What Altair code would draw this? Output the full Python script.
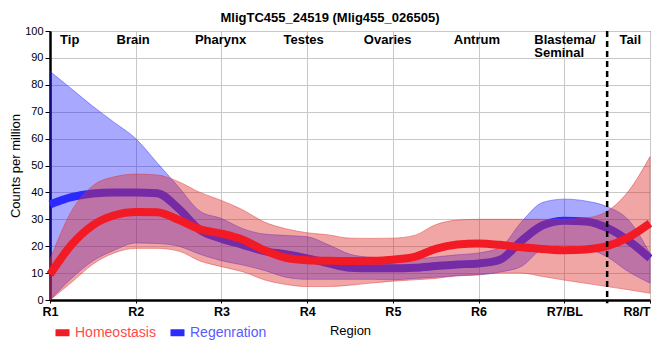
import json
import altair as alt
import pandas as pd

# ---- data ----
regions = ["R1", "R2", "R3", "R4", "R5", "R6", "R7/BL", "R8/T"]
series_names = ["Homeostasis", "Regenration"]

x_pos = [0, 0.25, 0.5, 0.75, 1, 1.25, 1.5, 1.75, 2, 2.25, 2.5, 2.75, 3, 3.25, 3.5,
         3.75, 4, 4.25, 4.5, 4.75, 5, 5.25, 5.5, 5.75, 6, 6.25, 6.5, 6.75, 7]

homeo_mean = [9.5, 20.5, 27.8, 31.5, 32.7, 32.6, 29.8, 26.3, 24.7, 22.4, 18.5, 15.7, 14.8, 14.6, 14.5,
              14.6, 15.0, 16.0, 19.0, 20.6, 21.0, 20.5, 19.6, 19.0, 18.5, 18.8, 20.0, 23.3, 28.5]
homeo_high = [15, 33, 42.5, 45.8, 46.8, 46.5, 44.0, 40.0, 37.0, 33.5, 29.0, 26.5, 25.0, 24.2, 23.0,
              22.9, 23.0, 24.0, 28.0, 29.7, 30.0, 30.0, 30.0, 30.0, 30.0, 30.5, 33.0, 40.5, 53.3]
homeo_low = [0, 6.5, 13.3, 17.5, 19.2, 19.2, 18.2, 14.5, 12.4, 10.5, 7.5, 5.8, 5.0, 5.0, 5.5,
             6.3, 7.0, 7.5, 8.0, 9.0, 9.5, 10.0, 10.0, 8.7, 7.4, 6.2, 5.0, 3.8, 2.5]

regen_mean = [35.5, 38.2, 39.6, 40.0, 40.0, 39.7, 34.0, 26.0, 22.8, 20.5, 18.2, 17.0, 15.5, 13.6, 12.0,
              11.8, 11.8, 12.0, 12.6, 13.2, 13.6, 15.0, 22.0, 27.8, 29.5, 29.2, 26.8, 22.0, 15.5]
regen_high = [85, 78.5, 72, 66, 60, 51, 42, 33, 30.3, 26.5, 24.5, 24.0, 23.5, 20.5, 17.0,
              15.8, 15.0, 15.2, 16.0, 16.8, 17.5, 19.5, 29.0, 36.3, 37.5, 36.8, 34.7, 29.7, 17.3]
regen_low = [0, 8, 14.5, 18.5, 21.2, 21.0, 20.0, 17.0, 14.6, 13.0, 11.0, 8.5, 7.7, 7.7, 7.7,
             7.7, 7.5, 8.0, 8.5, 9.0, 9.3, 10.4, 12.5, 19.0, 20.3, 19.3, 16.0, 10.5, 6.3]

tissue_names = ["Tip", "Brain", "Pharynx", "Testes", "Ovaries", "Antrum", "Tail"]
tissue_x = [0.23, 0.97, 1.99, 2.96, 3.94, 4.98, 6.77]
blastema_label = ["Blastema/\nSeminal"]
blastema_x = [5.65]
boundary_x = [6.5]
boundary_top = [100]
boundary_bottom = [-1.2]
label_y = [100]

# ---- tables ----
df = pd.concat([
    pd.DataFrame({"x": x_pos, "mean": homeo_mean, "low": homeo_low, "high": homeo_high,
                  "series": series_names[0]}),
    pd.DataFrame({"x": x_pos, "mean": regen_mean, "low": regen_low, "high": regen_high,
                  "series": series_names[1]}),
])
tissues = pd.DataFrame({"name": tissue_names, "x": tissue_x, "y": label_y * len(tissue_names)})
blastema = pd.DataFrame({"name": blastema_label, "x": blastema_x, "y": label_y})
boundary = pd.DataFrame({"x": boundary_x, "top": boundary_top, "bottom": boundary_bottom})

SANS = "Liberation Sans, Arial, sans-serif"

x_scale = alt.Scale(domain=[0, 7], nice=False, zero=False)
y_scale = alt.Scale(domain=[0, 100], nice=False)

x_axis = alt.Axis(values=list(range(8)), labelFlush=False, labelOverlap=False,
                  labelAlign=alt.ExprRef(expr="datum.value >= 7 ? 'right' : 'center'"),
                  labelExpr=json.dumps(regions) + "[round(datum.value)]")
y_axis = alt.Axis(values=list(range(0, 101, 10)), labelOverlap=False, tickCount=11)


def x_enc(field="x:Q"):
    return alt.X(field, scale=x_scale, axis=x_axis, title="Region")


def y_enc(field):
    return alt.Y(field, scale=y_scale, axis=y_axis, title="Counts per million")


base = alt.Chart(df)

blue_area = base.transform_filter(alt.datum.series == series_names[1]).mark_area(
    interpolate="monotone", fill="#0000ff", fillOpacity=0.34,
    stroke="#3030ff", strokeOpacity=0.45, strokeWidth=1,
).encode(x=x_enc(), y=y_enc("low:Q"), y2="high:Q")

red_area = base.transform_filter(alt.datum.series == series_names[0]).mark_area(
    interpolate="monotone", fill="#dd2a2a", fillOpacity=0.42,
    stroke="#e03030", strokeOpacity=0.45, strokeWidth=1,
).encode(x=x_enc(), y=y_enc("low:Q"), y2="high:Q")

color_enc = alt.Color(
    "series:N",
    scale=alt.Scale(domain=series_names, range=["#f21a24", "#2a2aff"]),
    legend=alt.Legend(
        title=None, orient="none", legendX=2, legendY=291, direction="horizontal",
        symbolType="stroke", symbolSize=196, symbolStrokeWidth=7,
        labelFont=SANS, labelFontSize=14, labelOffset=2, columnPadding=0,
        labelColor=alt.ExprRef(expr="datum.value === 'Homeostasis' ? '#ff4a4a' : '#5a5aff'"),
    ),
)

blue_line = base.transform_filter(alt.datum.series == series_names[1]).mark_line(
    interpolate="monotone", strokeWidth=8, strokeCap="butt",
).encode(x=x_enc(), y=y_enc("mean:Q"), color=color_enc)

red_line = base.transform_filter(alt.datum.series == series_names[0]).mark_line(
    interpolate="monotone", strokeWidth=8, strokeCap="butt",
).encode(x=x_enc(), y=y_enc("mean:Q"), color=color_enc)

dash = alt.Chart(boundary).mark_rule(color="black", strokeWidth=2.5, strokeDash=[6, 4]).encode(
    x=x_enc(), y=y_enc("top:Q"), y2="bottom:Q",
)

tissue_text = alt.Chart(tissues).mark_text(
    font=SANS, fontSize=13, fontWeight="bold", baseline="top", dy=3, color="black",
).encode(x=x_enc(), y=y_enc("y:Q"), text="name:N")

blastema_text = alt.Chart(blastema).mark_text(
    font=SANS, fontSize=13, fontWeight="bold", baseline="top", dy=3, align="left",
    lineBreak="\n", lineHeight=13, color="black",
).encode(x=x_enc(), y=y_enc("y:Q"), text="name:N")

chart = alt.layer(
    blue_area, blue_line, red_area, red_line, dash, tissue_text, blastema_text
).properties(
    width=600, height=269,
    padding={"left": 42, "top": 23, "right": 2, "bottom": 44},
    autosize=alt.AutoSizeParams(type="none"),
    title=alt.TitleParams(
        "MligTC455_24519 (Mlig455_026505)", font=SANS, fontSize=13, fontWeight="bold",
        anchor="middle", dx=-20, dy=-4, color="black", offset=-4,
    ),
).configure_view(
    stroke="black", strokeWidth=1
).configure_axis(
    domainColor="black", domainWidth=2.5, tickColor="black",
    gridColor="#c8c8c8", gridWidth=1, labelColor="black", titleColor="black",
).configure_axisX(
    tickSize=3, labelFont=SANS, labelFontSize=12.5, labelFontWeight="bold", labelPadding=2,
    titleFont=SANS, titleFontSize=13, titleFontWeight="normal", titlePadding=7,
).configure_axisY(
    tickSize=5, labelFont=SANS, labelFontSize=11, labelPadding=2,
    titleFont=SANS, titleFontSize=13, titleFontWeight="normal", titlePadding=2,
)

chart.save("out.html", embed_options={"renderer": "svg", "actions": False})
